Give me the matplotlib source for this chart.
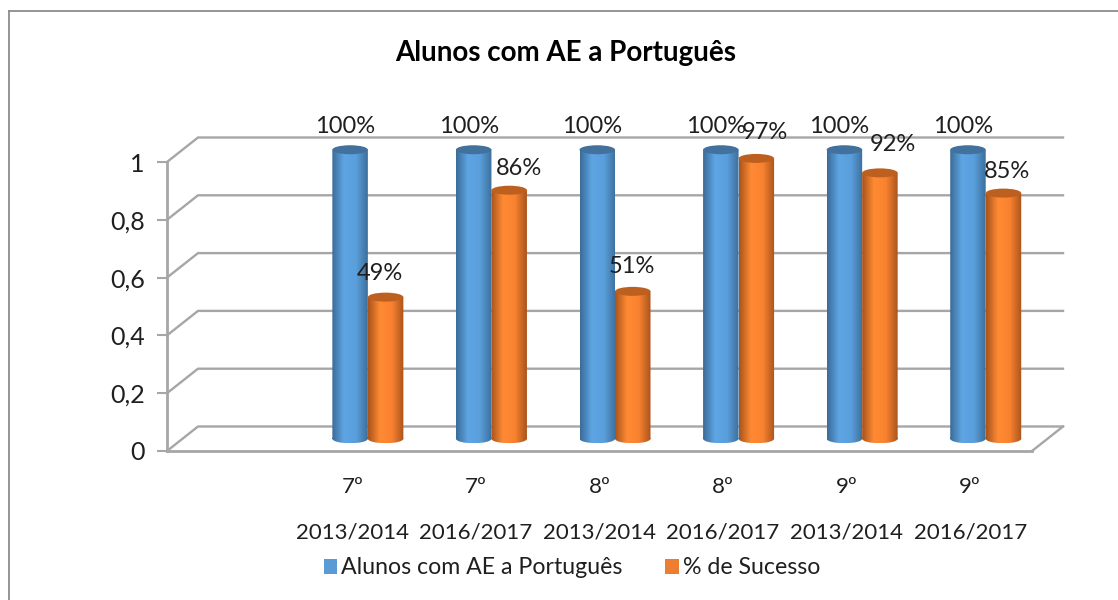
"""
Alunos com AE a Portugues - pseudo 3D cylinder columns
"""

import numpy as np
import matplotlib
matplotlib.use('Agg')
import matplotlib.pyplot as plt
from matplotlib.lines import Line2D
from matplotlib.patches import Ellipse, Rectangle
from matplotlib.path import Path
from matplotlib.transforms import Affine2D

GRADES = ['', '7º', '7º', '8º', '8º', '9º', '9º']
YEARS = ['', '2013/2014', '2016/2017', '2013/2014', '2016/2017', '2013/2014', '2016/2017']
ALUNOS = [None, 1.00, 1.00, 1.00, 1.00, 1.00, 1.00]
SUCESSO = [None, 0.49, 0.86, 0.51, 0.97, 0.92, 0.85]
Y_TICKS = [0, 0.2, 0.4, 0.6, 0.8, 1]
Y_TICK_LABELS = ['0', '0,2', '0,4', '0,6', '0,8', '1']
SERIES_NAMES = ['Alunos com AE a Português', '% de Sucesso']

# label nudges in pixels, the source chart has them dragged around a bit
ALUNOS_NUDGE = [None, (-5, 23), (-5, 23), (-5, 23), (-5, 23), (-5, 23), (-5, 23)]
SUCESSO_NUDGE = [None, (-6, 24), (10, 22), (-1, 25), (9, 26), (13, 28), (4, 22)]

W, H = 1118, 600
LEFT, RIGHT, BOTTOM, TOP = 167, 1032, 451, 162
DEPTH_X = 31 / ((RIGHT - LEFT) / 7)
DEPTH_Y = 24.5 / (BOTTOM - TOP)
BAR_W = 35.5 / ((RIGHT - LEFT) / 7)
CAP_H = 9 / (BOTTOM - TOP)

GRID = '#a6a6a6'
TEXT = '#1f1f1f'
BLUE = ['#3b6c98', '#5ea5e4', '#5a9fdc', '#3d6f9c']
ORANGE = ['#a9541c', '#ff8a33', '#f98230', '#a9541c']
BLUE_TOP = '#41719c'
ORANGE_TOP = '#bd5f1f'

plt.rcParams['font.family'] = ['Lato', 'DejaVu Sans']


def cylinder(ax, x, top, colors, cap):
    y0 = DEPTH_Y / 2
    y1 = top + DEPTH_Y / 2
    img = np.array([matplotlib.colors.to_rgb(c) for c in colors])
    stops = np.linspace(0, 1, len(colors))
    xs = np.linspace(0, 1, 64)
    grad = np.stack([np.interp(xs, stops, img[:, k]) for k in range(3)], axis=1)[None, :, :]
    im = ax.imshow(grad, extent=(x - BAR_W / 2, x + BAR_W / 2, y0 - CAP_H / 2, y1),
                   aspect='auto', zorder=3, interpolation='bilinear')
    body = Path.make_compound_path(
        Path.unit_rectangle().transformed(
            Affine2D().scale(BAR_W, y1 - y0).translate(x - BAR_W / 2, y0)),
        Path.unit_circle().transformed(
            Affine2D().scale(BAR_W / 2, CAP_H / 2).translate(x, y0)))
    # tops stick out above the axes box, so the box must not clip them
    im.set_clip_box(ax.figure.bbox)
    im.set_clip_path(body, ax.transData)
    ax.add_patch(Ellipse((x, y1), BAR_W, CAP_H, facecolor=cap, edgecolor='none',
                         zorder=4, clip_on=False))


fig = plt.figure(figsize=(W / 100, H / 100), dpi=100, facecolor='white')
ax = fig.add_axes([LEFT / W, 1 - BOTTOM / H, (RIGHT - LEFT) / W, (BOTTOM - TOP) / H])
ax.patch.set_visible(False)

pos = np.arange(len(GRADES)) + 0.5

# back wall, side wall and floor
for v in Y_TICKS:
    ax.plot([0, DEPTH_X, 7 + DEPTH_X], [v, v + DEPTH_Y, v + DEPTH_Y], color=GRID, lw=1.7,
            clip_on=False, zorder=1, solid_joinstyle='miter')
ax.plot([7, 7 + DEPTH_X], [0, DEPTH_Y], color=GRID, lw=1.7, clip_on=False, zorder=1)

for i, x in enumerate(pos):
    if ALUNOS[i] is None:
        continue
    xa = x + DEPTH_X / 2 - BAR_W / 2
    xs = x + DEPTH_X / 2 + BAR_W / 2
    cylinder(ax, xa, ALUNOS[i], BLUE, BLUE_TOP)
    cylinder(ax, xs, SUCESSO[i], ORANGE, ORANGE_TOP)
    ax.annotate(f'{ALUNOS[i]:.0%}', xy=(xa, ALUNOS[i] + DEPTH_Y / 2), xytext=ALUNOS_NUDGE[i],
                textcoords='offset pixels', ha='center', va='center', fontsize=17,
                color=TEXT, zorder=6, annotation_clip=False)
    ax.annotate(f'{SUCESSO[i]:.0%}', xy=(xs, SUCESSO[i] + DEPTH_Y / 2), xytext=SUCESSO_NUDGE[i],
                textcoords='offset pixels', ha='center', va='center', fontsize=17,
                color=TEXT, zorder=6, annotation_clip=False)

ax.set_xlim(0, 7)
ax.set_ylim(0, 1)
ax.set_yticks(Y_TICKS, Y_TICK_LABELS)
ax.set_xticks(pos, [f'{g}\n\n{y}' if g else '' for g, y in zip(GRADES, YEARS)])
ax.tick_params(axis='x', length=0, pad=19, labelsize=16, labelcolor=TEXT)
ax.tick_params(axis='y', length=7, width=1.5, color=GRID, pad=9, labelsize=18, labelcolor=TEXT)
for lab in ax.get_xticklabels():
    lab.set_linespacing(1.15)

for side in ['top', 'right']:
    ax.spines[side].set_visible(False)
for side in ['left', 'bottom']:
    ax.spines[side].set_color(GRID)
    ax.spines[side].set_linewidth(2)

ax.set_title('Alunos com AE a Português', fontsize=20, fontweight='bold', color='black',
             x=(566 - LEFT) / (RIGHT - LEFT), y=1.35, va='center')

handles = [Rectangle((0, 0), 1, 1, facecolor='#5b9bd5'), Rectangle((0, 0), 1, 1, facecolor='#ed7d31')]
fig.legend(handles, SERIES_NAMES, ncol=2, frameon=False, fontsize=16.7, labelcolor=TEXT,
           handlelength=0.58, handleheight=0.58, handletextpad=0.17, columnspacing=1.85,
           loc='center', bbox_to_anchor=(572 / W, 1 - 568 / H), borderpad=0)

# chart frame
fig.add_artist(Line2D([8.5 / W, 1], [1 - 10.5 / H, 1 - 10.5 / H], color='#8c8c8c', lw=1.3))
fig.add_artist(Line2D([8.5 / W, 8.5 / W], [0, 1 - 10.5 / H], color='#8c8c8c', lw=1.3))

fig.savefig('out.png', dpi=100)
